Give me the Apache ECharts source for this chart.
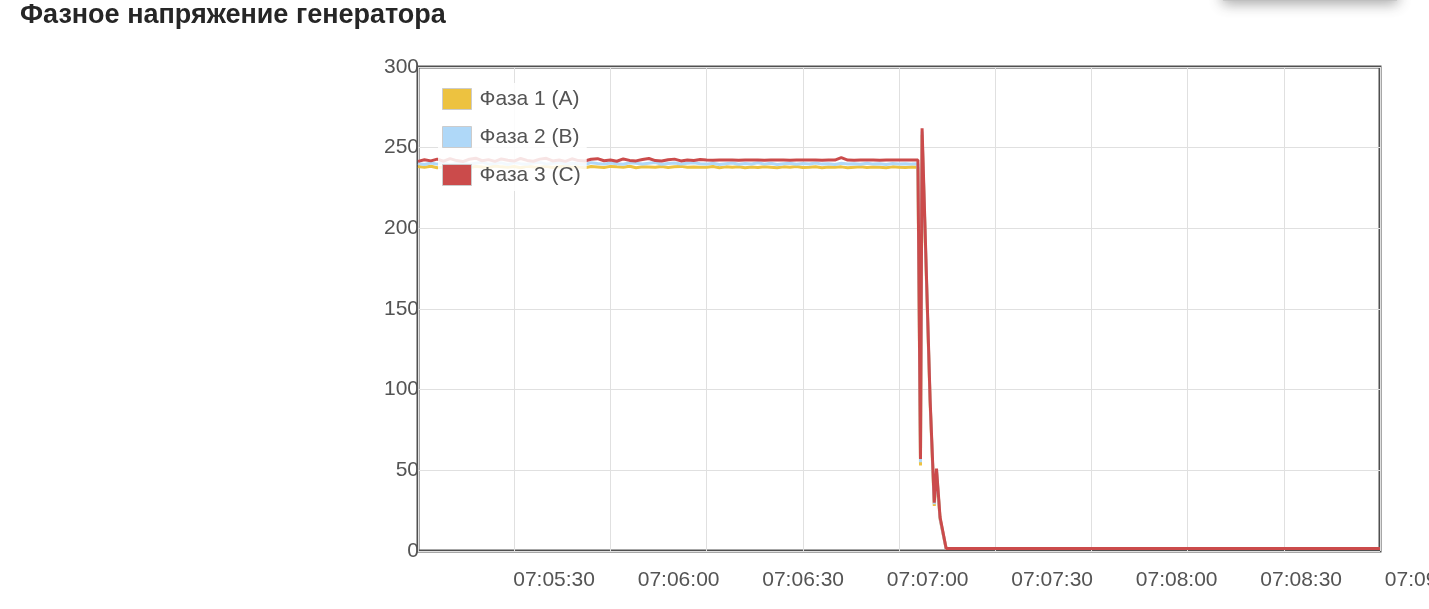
<!DOCTYPE html>
<html>
<head>
<meta charset="utf-8">
<script src="https://cdn.jsdelivr.net/npm/echarts@6/dist/echarts.min.js"></script>
<style>
html,body{margin:0;padding:0;background:#fff;}
#c{width:1429px;height:609px;}
</style>
</head>
<body>
<div id="c"></div>
<script>
var titleText = 'Фазное напряжение генератора';
var seriesNames = ['Фаза 1 (A)', 'Фаза 2 (B)', 'Фаза 3 (C)'];
var seriesColors = ['#edc240', '#afd8f8', '#cb4b4b'];

// time in seconds of day (07:05:00 = 25500)
var times = [
25500,25502,25504,25506,25508,25510,25512,25514,25516,25518,
25520,25522,25524,25526,25528,25530,25532,25534,25536,25538,
25540,25542,25544,25546,25548,25550,25552,25554,25556,25558,
25560,25562,25564,25566,25568,25570,25572,25574,25576,25578,
25580,25582,25584,25586,25588,25590,25592,25594,25596,25598,
25600,25602,25604,25606,25608,25610,25612,25614,25616,25618,
25620,25622,25624,25626,25628,25630,25632,25634,25636,25638,
25640,25642,25644,25646,25648,25650,25652,25654,
25655.9,25656.7,25657.2,25659.7,25661.0,25661.7,25662.8,25664.7,25800
];

var phaseA = [
238.3,237.8,238.5,237.6,238.1,238.7,237.9,238.2,237.5,238.4,
238.0,237.7,238.6,238.1,237.8,238.3,237.6,238.5,238.0,237.9,
238.4,237.7,238.2,238.6,237.8,238.1,237.5,238.3,238.0,237.7,
238.4,238.1,237.9,238.5,237.6,238.2,238.0,237.8,238.3,237.7,
238.1,238.4,237.9,238.0,237.8,
237.9,238.3,237.6,238.1,237.8,238.2,237.5,238.0,237.7,238.2,
237.9,237.6,238.1,237.8,238.3,237.7,237.9,238.2,237.6,238.0,
237.8,238.1,237.5,237.9,238.2,237.7,238.0,237.8,237.6,238.1,
237.9,237.7,238.0,
237.9,53,258,92,28,49,20,1.5,1.5
];

var phaseB = [
240.2,239.6,240.5,239.8,240.9,239.5,240.3,240.7,239.7,240.4,
241.0,239.8,240.2,240.6,239.6,240.8,240.1,239.7,240.5,240.9,
239.8,240.3,240.6,239.9,240.4,240.0,239.6,240.7,240.2,239.8,
240.5,240.1,239.7,240.6,240.3,239.9,240.4,240.8,239.7,240.2,
240.5,239.9,240.3,240.6,240.0,
239.8,240.4,239.6,240.1,240.5,239.7,240.2,239.9,240.6,239.8,
240.3,239.6,240.1,240.4,239.7,240.2,239.9,240.5,239.8,240.0,
239.6,240.3,239.9,240.1,239.7,240.4,239.8,240.0,239.6,240.2,
239.9,240.1,239.8,
240.0,55,260,93,29,50,20,1.5,1.5
];

var phaseC = [
241.5,242.5,241.8,242.9,241.6,243.2,242.0,241.4,242.8,243.5,
241.9,242.6,241.5,243.0,242.2,241.7,243.3,242.1,241.6,242.9,
243.4,241.8,242.4,241.5,243.1,242.0,241.7,242.8,243.2,241.9,
242.3,241.6,243.0,242.1,241.8,242.7,243.3,242.0,241.7,242.5,
242.9,241.8,242.4,242.1,242.6,
242.3,242.2,242.4,242.3,242.3,242.2,242.4,242.3,242.3,242.2,
242.3,242.4,242.3,242.2,242.3,242.3,242.4,242.3,242.2,242.3,
242.3,243.8,242.3,242.2,242.4,242.3,242.3,242.2,242.3,242.4,
242.3,242.3,242.3,
242.3,57,262,94,30,51,21,1.5,1.5
];

var yTicks = [0, 50, 100, 150, 200, 250, 300];

function pairs(vals) {
  return times.map(function (t, i) { return [t, vals[i]]; });
}
function fmtTime(v) {
  var s = Math.round(v);
  var h = Math.floor(s / 3600), m = Math.floor((s % 3600) / 60), sec = s % 60;
  function p(n) { return (n < 10 ? '0' : '') + n; }
  return p(h) + ':' + p(m) + ':' + p(sec);
}

var FONT = '"Liberation Sans", Arial, sans-serif';
var chart = echarts.init(document.getElementById('c'), null, {renderer: 'canvas'});
var allVals = [phaseA, phaseB, phaseC];

chart.setOption({
  animation: false,
  backgroundColor: '#fff',
  title: {
    text: titleText,
    left: 15, top: -3,
    textStyle: {fontFamily: FONT, fontSize: 27, fontWeight: 'bold', color: '#262626'}
  },
  graphic: [{
    type: 'rect', z: 100,
    shape: {x: 1223, y: -20, width: 174, height: 20},
    style: {fill: '#fff', stroke: '#bbb', lineWidth: 1, shadowBlur: 14, shadowColor: 'rgba(0,0,0,0.35)', shadowOffsetY: 3}
  }],
  legend: {
    data: seriesNames,
    orient: 'vertical',
    left: 438, top: 83,
    padding: [4, 6, 4, 4],
    itemGap: 14,
    itemWidth: 29, itemHeight: 21,
    icon: 'rect',
    backgroundColor: 'rgba(255,255,255,0.85)',
    z: 10,
    selectedMode: false,
    itemStyle: {borderColor: '#ccc', borderWidth: 1},
    textStyle: {fontFamily: FONT, fontSize: 21, color: '#545454', lineHeight: 24, padding: [0, 0, 0, 3]}
  },
  grid: [
    {left: 418, top: 67, width: 962, height: 484, show: true, borderColor: '#505050', borderWidth: 3, backgroundColor: 'transparent', outerBoundsMode: 'none', containLabel: false},
    {left: 429.6, top: 67, width: 999.4, height: 484, show: false, outerBoundsMode: 'none', containLabel: false}
  ],
  xAxis: [
    {
      type: 'value', gridIndex: 0, min: 25500, max: 25800, interval: 30,
      axisLine: {show: false}, axisTick: {show: false}, axisLabel: {show: false},
      splitLine: {show: true, lineStyle: {color: '#e0e0e0', width: 1}}
    },
    {
      type: 'value', gridIndex: 1, min: 25500, max: 25740.8, interval: 30,
      axisLine: {show: false}, axisTick: {show: false}, splitLine: {show: false},
      axisLabel: {
        show: true, showMinLabel: false, margin: 19,
        fontFamily: FONT, fontSize: 21, color: '#545454',
        formatter: function (v) { return v === 25500 ? '' : fmtTime(v); }
      }
    }
  ],
  yAxis: [
    {
      type: 'value', gridIndex: 0, min: yTicks[0], max: yTicks[yTicks.length - 1], interval: 50,
      axisLine: {show: false}, axisTick: {show: false},
      axisLabel: {margin: -1, padding: [4, 0, 0, 0], fontFamily: FONT, fontSize: 21, color: '#545454'},
      splitLine: {show: true, lineStyle: {color: '#e0e0e0', width: 1}}
    },
    {type: 'value', gridIndex: 1, min: 0, max: 300, show: false}
  ],
  series: seriesNames.map(function (n, i) {
    return {
      name: n, type: 'line', xAxisIndex: 0, yAxisIndex: 0,
      data: pairs(allVals[i]),
      showSymbol: false, symbol: 'none',
      color: seriesColors[i],
      lineStyle: {width: 3, color: seriesColors[i]},
      z: 2 + i
    };
  })
});
</script>
</body>
</html>
